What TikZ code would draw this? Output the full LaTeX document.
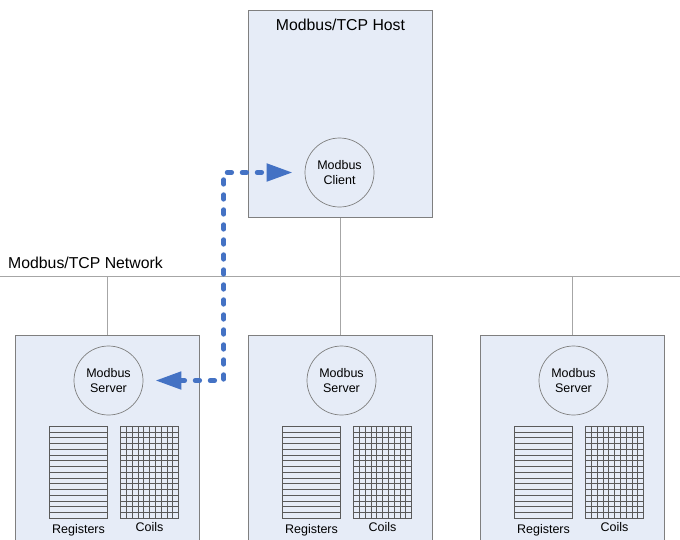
\documentclass[tikz,border=0pt]{standalone}
\usepackage{fontspec}
\setmainfont{Liberation Sans}
\usetikzlibrary{arrows.meta}
\definecolor{boxfill}{HTML}{E6ECF7}
\definecolor{boxline}{HTML}{7F7F7F}
\definecolor{wire}{HTML}{A6A6A6}
\definecolor{gridc}{HTML}{5A5A5A}
\definecolor{flow}{HTML}{4472C4}
\tikzset{
  devbox/.style={draw=boxline, fill=boxfill, line width=0.9pt, minimum width=184pt, inner sep=0pt},
  proc/.style={circle, draw=boxline, fill=boxfill, line width=0.7pt, minimum size=69pt, inner sep=0pt, align=center, font=\fontsize{12.5}{15}\selectfont},
  lbl/.style={font=\fontsize{12.5}{15}\selectfont, inner sep=0pt},
  big/.style={font=\fontsize{15.8}{19}\selectfont, inner sep=0pt},
  wireline/.style={draw=wire, line width=0.8pt},
  flowline/.style={draw=flow, line width=4.8pt, line cap=round, dash pattern=on 4.5pt off 10.5pt,
     {Triangle[length=26pt,width=17pt]}-{Triangle[length=26pt,width=17pt]}, shorten <=12pt, shorten >=12pt},
  gline/.style={draw=gridc, line width=0.5pt},
  regs/.pic={
    \draw[gline] (0,0) rectangle (58,92);
    \foreach \i in {1,...,15} \draw[gline] (0,\i*5.75) -- (58,\i*5.75);
  },
  coils/.pic={
    \draw[gline] (0,0) rectangle (58,92);
    \foreach \i in {1,...,15} \draw[gline] (0,\i*5.75) -- (58,\i*5.75);
    \foreach \j in {1,...,9} \draw[gline] (\j*5.8,0) -- (\j*5.8,92);
  }
}
\begin{document}
\begin{tikzpicture}[x=1pt,y=-1pt]
\clip (0,0) rectangle (680,539);
\fill[white] (0,0) rectangle (680,539);
% network
\coordinate (netL) at (0,276);
\coordinate (netR) at (680,276);
\draw[wireline] (netL) -- (netR);
\node[big, anchor=base west] (netlabel) at (8,268) {Modbus/TCP Network};
% host
\node[devbox, minimum height=207pt] (host) at (340.5,114) {};
\node[big] (hosttitle) at (340.5,25) {Modbus/TCP Host};
\node[proc] (client) at (339.5,172.5) {Modbus\\Client};
\draw[wireline] (host.south) -- (host.south |- netL);
% servers
\foreach \n/\cx in {1/107, 2/340, 3/572} {
  \node[devbox, minimum height=240pt, anchor=north] (srvbox\n) at (\cx,334.5) {};
  \coordinate (tap\n) at (\cx,276);
  \draw[wireline] (tap\n) -- (srvbox\n.north);
  \node[proc] (srv\n) at (\cx+1.5,380.5) {Modbus\\Server};
  \pic at (\cx-57.5,426) {regs};
  \pic at (\cx+13.5,426) {coils};
  \node[lbl] (reglbl\n) at (\cx-28.5,530) {Registers};
  \node[lbl] (coillbl\n) at (\cx+42.5,527) {Coils};
}
% request/response flow
\draw[flowline] (srv1.east) -- ++(80.5,0) |- (client.west);
\end{tikzpicture}
\end{document}
